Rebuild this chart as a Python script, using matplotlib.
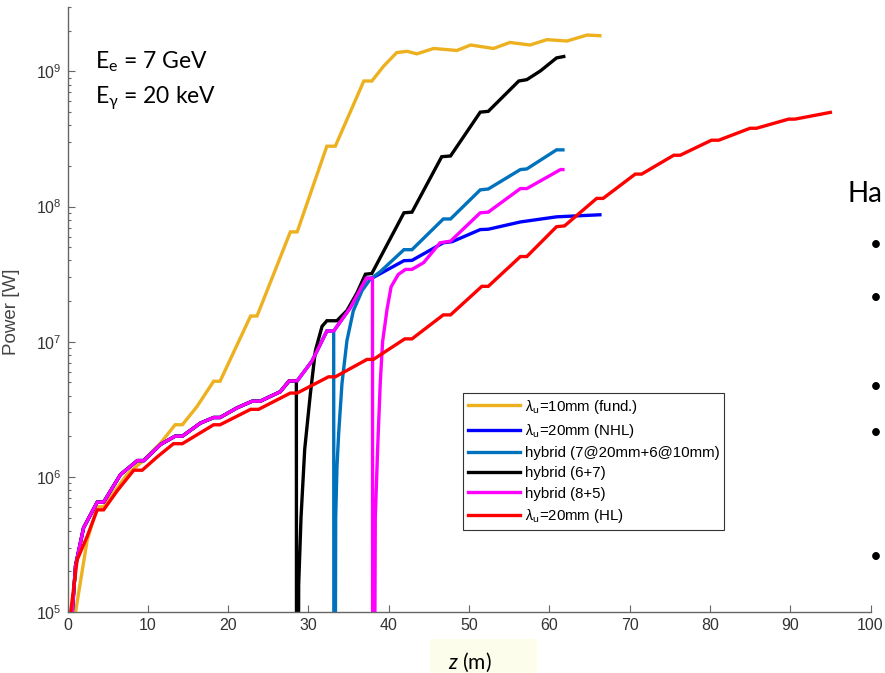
import numpy as np
import matplotlib
matplotlib.use("Agg")
import matplotlib.pyplot as plt
from matplotlib.patches import Rectangle

plt.rcParams.update({
    "font.family": ["Liberation Sans", "DejaVu Sans"],
    "mathtext.fontset": "custom",
    "mathtext.rm": "Lato",
    "mathtext.it": "Lato:italic",
    "mathtext.fallback": "cm",
})

# ── data (z in m, power in W) ───────────────────────────────────────────────
fund_z = [1.0, 2.45, 3.7, 4.5, 7.4, 9.5, 11.6, 13.4, 14.3, 16.1, 18.2, 19.0,
          22.8, 23.6, 24.4, 27.75, 28.6, 32.3, 33.35, 36.9, 37.9, 39.4, 41.0,
          42.3, 43.5, 45.6, 48.5, 50.2, 53.05, 55.1, 57.6, 59.7, 62.2, 64.7, 66.3]
fund_p = [1e5, 3.4e5, 6.0e5, 6.0e5, 1.04e6, 1.33e6, 1.78e6, 2.43e6, 2.43e6,
          3.3e6, 5.1e6, 5.1e6, 1.55e7, 1.55e7, 2.04e7, 6.5e7, 6.5e7, 2.8e8,
          2.8e8, 8.5e8, 8.5e8, 1.1e9, 1.38e9, 1.41e9, 1.35e9, 1.48e9, 1.43e9,
          1.57e9, 1.48e9, 1.64e9, 1.57e9, 1.72e9, 1.68e9, 1.86e9, 1.84e9]

nhl_z = [0.6, 1.0, 2.0, 3.7, 4.5, 6.6, 8.7, 9.5, 11.6, 13.4, 14.3, 16.55, 18.2,
         19.0, 21.1, 23.0, 24.0, 26.5, 27.6, 28.6, 30.45, 32.3, 33.15, 35.2,
         37.2, 37.9, 41.9, 42.9, 46.8, 47.9, 51.4, 52.4, 56.4, 60.9, 66.3]
nhl_p = [1e5, 2.2e5, 4.2e5, 6.5e5, 6.5e5, 1.04e6, 1.32e6, 1.32e6, 1.74e6,
         2.0e6, 2.0e6, 2.5e6, 2.75e6, 2.75e6, 3.24e6, 3.63e6, 3.63e6, 4.27e6,
         5.13e6, 5.13e6, 7.2e6, 1.2e7, 1.2e7, 1.78e7, 2.95e7, 2.95e7, 3.98e7,
         4.0e7, 5.4e7, 5.5e7, 6.76e7, 6.8e7, 7.7e7, 8.4e7, 8.7e7]

# hybrid (7@20mm+6@10mm): after the switch at z = 33.15 m
h76_z = [33.15, 33.2, 33.4, 33.56, 33.77, 34.18, 34.8, 35.6, 36.7, 37.7, 38.95,
         41.9, 42.9, 46.8, 47.7, 51.4, 52.4, 56.4, 57.2, 60.9, 61.7]
h76_p = [1.2e7, 1e1, 5e5, 1.2e6, 2.1e6, 4.9e6, 1.02e7, 1.7e7, 2.4e7, 2.9e7,
         3.3e7, 4.8e7, 4.8e7, 8.1e7, 8.1e7, 1.33e8, 1.35e8, 1.88e8, 1.9e8,
         2.63e8, 2.63e8]

# hybrid (6+7): after the switch at z = 28.5 m
h67_z = [28.5, 28.55, 28.79, 29.08, 29.54, 30.24, 30.87, 31.7, 32.3, 33.55,
         34.8, 36.05, 37.1, 37.9, 41.9, 42.9, 46.6, 47.7, 51.4, 52.4, 56.2,
         57.2, 58.9, 60.9, 61.8]
h67_p = [5.13e6, 1e1, 1.6e5, 5.0e5, 1.6e6, 4.1e6, 8.6e6, 1.3e7, 1.43e7, 1.43e7,
         1.7e7, 2.3e7, 3.16e7, 3.2e7, 9.0e7, 9.1e7, 2.34e8, 2.37e8, 5.0e8,
         5.07e8, 8.5e8, 8.7e8, 1.01e9, 1.26e9, 1.29e9]

# hybrid (8+5): after the switch at z = 37.98 m
h85_z = [37.98, 38.02, 38.33, 38.62, 38.95, 39.24, 39.8, 40.3, 41.2, 42.1, 42.9,
         44.35, 46.4, 47.7, 51.4, 52.4, 56.4, 57.2, 61.4, 61.7]
h85_p = [2.95e7, 1e1, 5e5, 1.6e6, 5.0e6, 1.0e7, 1.75e7, 2.55e7, 3.15e7, 3.43e7,
         3.43e7, 3.85e7, 5.4e7, 5.55e7, 9.0e7, 9.1e7, 1.36e8, 1.36e8, 1.88e8,
         1.88e8]

hl_z = [0.4, 1.2, 2.45, 3.7, 4.5, 6.2, 8.25, 9.3, 11.2, 13.2, 14.3, 18.2, 19.0,
        22.8, 23.8, 27.75, 28.6, 32.5, 33.35, 37.3, 38.1, 42.0, 42.9, 46.8,
        47.7, 51.6, 52.4, 56.4, 57.2, 60.9, 61.9, 65.9, 66.7, 70.7, 71.5, 75.5,
        76.3, 80.2, 81.1, 85.0, 85.8, 89.8, 90.6, 95.0]
hl_p = [1e5, 2.43e5, 3.63e5, 5.7e5, 5.7e5, 7.9e5, 1.12e6, 1.12e6, 1.41e6,
        1.76e6, 1.76e6, 2.43e6, 2.43e6, 3.16e6, 3.16e6, 4.17e6, 4.17e6, 5.5e6,
        5.5e6, 7.4e6, 7.4e6, 1.05e7, 1.05e7, 1.58e7, 1.58e7, 2.57e7, 2.57e7,
        4.27e7, 4.27e7, 7.1e7, 7.2e7, 1.15e8, 1.15e8, 1.74e8, 1.74e8, 2.4e8,
        2.4e8, 3.1e8, 3.1e8, 3.8e8, 3.8e8, 4.44e8, 4.44e8, 4.98e8]

labels = [r"$\lambda_\mathrm{u}$=10mm (fund.)", r"$\lambda_\mathrm{u}$=20mm (NHL)",
          "hybrid (7@20mm+6@10mm)", "hybrid (6+7)", "hybrid (8+5)",
          r"$\lambda_\mathrm{u}$=20mm (HL)"]
colors = ["#EDB120", "#0000FF", "#0072BD", "#000000", "#FF00FF", "#FF0000"]


def with_nhl(z_post, p_post):
    """Hybrid runs follow the NHL curve until their switch point."""
    z_nhl = np.array(nhl_z)
    keep = z_nhl < z_post[0]
    return (np.concatenate([z_nhl[keep], z_post]),
            np.concatenate([np.array(nhl_p)[keep], p_post]))


series = [
    (fund_z, fund_p),
    (nhl_z, nhl_p),
    with_nhl(h76_z, h76_p),
    with_nhl(h67_z, h67_p),
    with_nhl(h85_z, h85_p),
    (hl_z, hl_p),
]

fig = plt.figure(figsize=(8.85, 6.73), dpi=100)
W, H = 885, 673
ax = fig.add_axes([67.5 / W, 1 - 612 / H, 803 / W, 605 / H])

for (z, p), c, lab in zip(series, colors, labels):
    ax.plot(z, p, color=c, lw=2.4, label=lab, solid_joinstyle="miter")

ax.set_yscale("log")
ax.set_xlim(0, 100)
ax.set_ylim(1e5, 3.0e9)
ax.set_xticks(np.arange(0, 101, 10))
for s in ("top", "right"):
    ax.spines[s].set_visible(False)
for s in ("left", "bottom"):
    ax.spines[s].set_color("#666666")
    ax.spines[s].set_linewidth(1.0)
ax.tick_params(which="both", direction="in", colors="#666666",
               labelcolor="#333333", labelsize=11.5)
ax.tick_params(which="major", length=5, width=0.8, pad=4)
ax.tick_params(which="minor", length=2.5, width=0.8)
ax.tick_params(axis="x", which="minor", bottom=False)

ax.set_ylabel("Power [W]", fontsize=13.5, color="#444444")
ax.yaxis.set_label_coords((20 - 67.5) / 803, (612 - 312) / 605)

leg = ax.legend(loc="upper left", bbox_to_anchor=((463 - 67.5) / 803, (612 - 393) / 605),
                borderaxespad=0, fontsize=10.8, handlelength=3.5, handletextpad=0.3,
                labelspacing=0.42, borderpad=0.3, fancybox=False, framealpha=1)
leg.get_frame().set_edgecolor("#333333")
leg.get_frame().set_linewidth(0.8)

# beam annotations
fig.text(95 / W, 1 - 68 / H, r"E$_\mathrm{e}$ = 7 GeV", fontsize=16.5,
         family="Lato", va="baseline")
fig.text(95 / W, 1 - 103 / H, r"E$_\mathrm{γ}$ = 20 keV", fontsize=16.5,
         family="Lato", va="baseline")

# x-axis label in its highlighted box
fig.add_artist(Rectangle((430 / W, 0), 107 / W, 34 / H, transform=fig.transFigure,
                         facecolor="#fdfdec", edgecolor="none", zorder=0))
fig.text(448 / W, 1 - 662 / H, r"$z$ (m)", fontsize=15, family="Lato", va="center")

# clipped slide text on the right
fig.text(848 / W, 1 - 202 / H, "Ha", fontsize=20, family="Lato", va="baseline")
for yb in [245, 298, 387, 433, 557]:
    fig.text(876 / W, 1 - yb / H, "\u2022", fontsize=15, family="Lato",
             ha="center", va="center")

fig.savefig("out.png", dpi=100)
